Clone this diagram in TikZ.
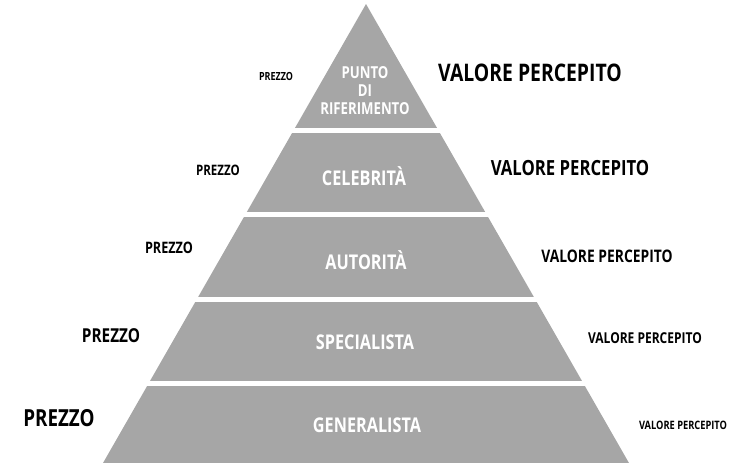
\documentclass[tikz,border=0pt]{standalone}
\usepackage{fontspec}
\setmainfont{Open Sans}[FakeStretch=0.8]
\definecolor{pyr}{HTML}{A6A6A6}
\begin{document}
\begin{tikzpicture}[x=1pt,y=-1pt,
  lbl/.style={inner sep=0pt, font=\bfseries, text=black},
  inlbl/.style={inner sep=0pt, font=\bfseries, text=white, align=center}]
\useasboundingbox (0,0) rectangle (749,467);
\begin{scope}
  \clip (366,4) -- (103,463) -- (629,463) -- cycle;
  \fill[pyr] (0,4) rectangle (749,128);
  \fill[pyr] (0,133) rectangle (749,212);
  \fill[pyr] (0,217) rectangle (749,297);
  \fill[pyr] (0,302) rectangle (749,381);
  \fill[pyr] (0,386) rectangle (749,463);
\end{scope}
% inside labels
\node[inlbl, font=\bfseries\fontsize{16.5}{18}\selectfont] (t1) at (365,91) {PUNTO\\DI\\RIFERIMENTO};
\node[inlbl, font=\bfseries\fontsize{20.3}{24}\selectfont] (t2) at (364,176) {CELEBRITÀ};
\node[inlbl, font=\bfseries\fontsize{20.3}{24}\selectfont] (t3) at (366,260) {AUTORITÀ};
\node[inlbl, font=\bfseries\fontsize{20.3}{24}\selectfont] (t4) at (365,342) {SPECIALISTA};
\node[inlbl, font=\bfseries\fontsize{20.3}{24}\selectfont] (t5) at (367,425) {GENERALISTA};
% left labels
\node[lbl, font=\bfseries\fontsize{11.2}{13}\selectfont] (p1) at (276,76) {PREZZO};
\node[lbl, font=\bfseries\fontsize{14.4}{17}\selectfont] (p2) at (218,170) {PREZZO};
\node[lbl, font=\bfseries\fontsize{15.8}{19}\selectfont] (p3) at (169,248) {PREZZO};
\node[lbl, font=\bfseries\fontsize{19.2}{22}\selectfont] (p4) at (111,336) {PREZZO};
\node[lbl, font=\bfseries\fontsize{23.5}{27}\selectfont] (p5) at (59,418) {PREZZO};
% right labels
\node[lbl, font=\bfseries\fontsize{24.2}{28}\selectfont] (v1) at (530,73) {VALORE PERCEPITO};
\node[lbl, font=\bfseries\fontsize{20.9}{24}\selectfont] (v2) at (570,168) {VALORE PERCEPITO};
\node[lbl, font=\bfseries\fontsize{17.3}{20}\selectfont] (v3) at (607,256) {VALORE PERCEPITO};
\node[lbl, font=\bfseries\fontsize{15}{18}\selectfont] (v4) at (645,338) {VALORE PERCEPITO};
\node[lbl, font=\bfseries\fontsize{11.6}{14}\selectfont] (v5) at (683,425) {VALORE PERCEPITO};
\end{tikzpicture}
\end{document}
